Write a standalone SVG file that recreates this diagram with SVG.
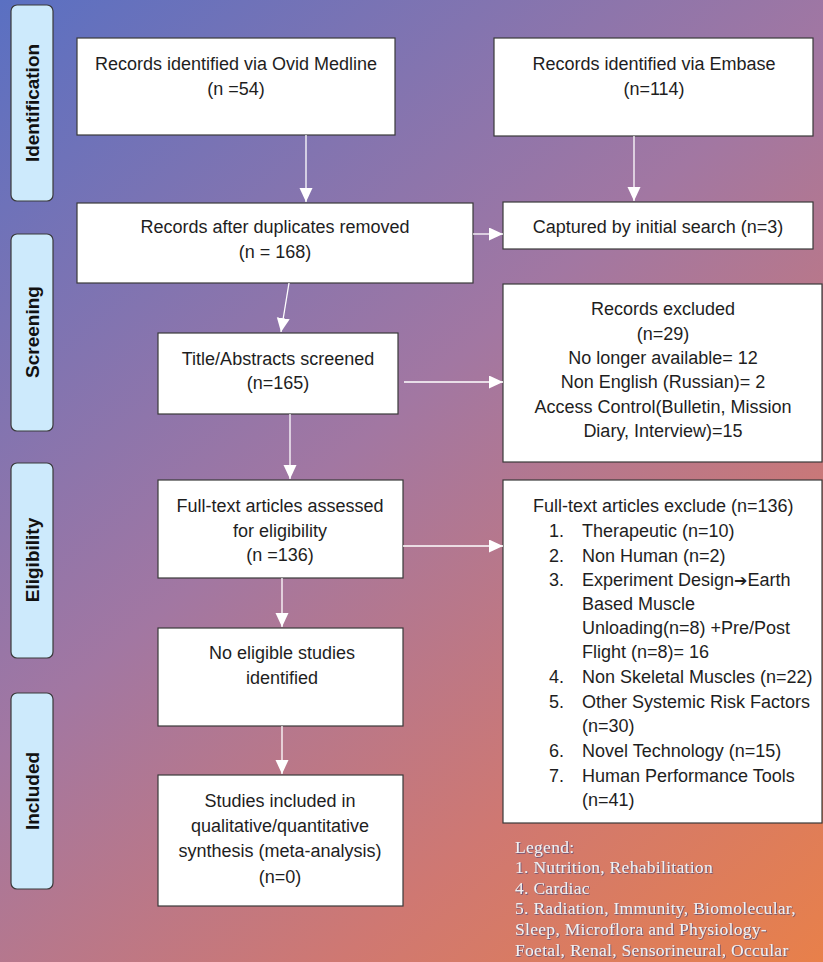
<svg xmlns="http://www.w3.org/2000/svg" width="823" height="962" viewBox="0 0 823 962">
<defs>
<linearGradient id="bg" gradientUnits="userSpaceOnUse" x1="0" y1="0" x2="823" y2="962">
<stop offset="0" stop-color="#5a70c2"/>
<stop offset="0.45" stop-color="#a277a2"/>
<stop offset="0.75" stop-color="#cf7872"/>
<stop offset="1" stop-color="#e8804a"/>
</linearGradient>
<marker id="ah" markerUnits="userSpaceOnUse" markerWidth="14" markerHeight="14" refX="14" refY="6.5" orient="auto">
<path d="M0,0 L14,6.5 L0,13 z" fill="#ffffff"/>
</marker>
<filter id="sh" x="-5%" y="-20%" width="110%" height="140%">
<feDropShadow dx="0.7" dy="0.7" stdDeviation="0.3" flood-color="#3b3f7a" flood-opacity="0.9"/>
</filter>
<style>
.box{fill:#ffffff;stroke:#3a3a3a;stroke-width:1.2}
.side{fill:#cdeafc;stroke:#3a3a3a;stroke-width:1.2}
.t{font-family:"Liberation Sans",Arial,sans-serif;font-size:18px;fill:#1e1e1e}
.c{text-anchor:middle}
.arr{font-family:"DejaVu Sans",sans-serif;font-size:16px}
.st{font-family:"Liberation Sans",Arial,sans-serif;font-size:19px;font-weight:bold;fill:#111111;text-anchor:middle}
.lg{font-family:"Liberation Serif","Times New Roman",serif;font-size:17.5px;letter-spacing:0.3px;fill:#f0f0f3}
.con{stroke:#ffffff;stroke-width:1.3;fill:none}
</style>
</defs>
<rect x="0" y="0" width="823" height="962" fill="url(#bg)"/>

<g id="side-identification">
<rect class="side" x="11" y="5" width="42" height="196" rx="6"/>
<text class="st" transform="translate(39,103) rotate(-90)">Identification</text>
</g>
<g id="side-screening">
<rect class="side" x="11" y="234" width="42" height="197" rx="6"/>
<text class="st" transform="translate(39,332) rotate(-90)">Screening</text>
</g>
<g id="side-eligibility">
<rect class="side" x="11" y="463" width="42" height="195" rx="6"/>
<text class="st" transform="translate(39,560) rotate(-90)">Eligibility</text>
</g>
<g id="side-included">
<rect class="side" x="11" y="693" width="42" height="196" rx="6"/>
<text class="st" transform="translate(39,791) rotate(-90)">Included</text>
</g>

<g id="ovid">
<rect class="box" x="77" y="38" width="318" height="97"/>
<text class="t c" x="236" y="70">Records identified via Ovid Medline</text>
<text class="t c" x="236" y="95">(n =54)</text>
</g>
<g id="embase">
<rect class="box" x="494" y="38" width="319" height="98"/>
<text class="t c" x="654" y="70">Records identified via Embase</text>
<text class="t c" x="654" y="95">(n=114)</text>
</g>
<g id="duplicates">
<rect class="box" x="77" y="203" width="396" height="80"/>
<text class="t c" x="275" y="233">Records after duplicates removed</text>
<text class="t c" x="275" y="258">(n = 168)</text>
</g>
<g id="captured">
<rect class="box" x="503" y="202" width="310" height="47"/>
<text class="t c" x="658" y="233">Captured by initial search (n=3)</text>
</g>
<g id="title-abstracts">
<rect class="box" x="158" y="333" width="240" height="81"/>
<text class="t c" x="278" y="365">Title/Abstracts screened</text>
<text class="t c" x="278" y="389">(n=165)</text>
</g>
<g id="records-excluded">
<rect class="box" x="503" y="284" width="319" height="178"/>
<text class="t c" x="663" y="315">Records excluded</text>
<text class="t c" x="663" y="340">(n=29)</text>
<text class="t c" x="663" y="364">No longer available= 12</text>
<text class="t c" x="663" y="388">Non English (Russian)= 2</text>
<text class="t c" x="663" y="413">Access Control(Bulletin, Mission</text>
<text class="t c" x="663" y="437">Diary, Interview)=15</text>
</g>
<g id="fulltext-assessed">
<rect class="box" x="158" y="480" width="245" height="98"/>
<text class="t c" x="280" y="512">Full-text articles assessed</text>
<text class="t c" x="280" y="537">for eligibility</text>
<text class="t c" x="280" y="561">(n =136)</text>
</g>
<g id="fulltext-excluded">
<rect class="box" x="503" y="480" width="319" height="343"/>
<text class="t" x="533" y="512">Full-text articles exclude (n=136)</text>
<text class="t" x="549" y="537">1.</text><text class="t" x="582" y="537">Therapeutic (n=10)</text>
<text class="t" x="549" y="562">2.</text><text class="t" x="582" y="562">Non Human (n=2)</text>
<text class="t" x="549" y="586">3.</text><text class="t" x="582" y="586">Experiment Design<tspan class="arr">➔</tspan>Earth</text>
<text class="t" x="582" y="610">Based Muscle</text>
<text class="t" x="582" y="634">Unloading(n=8) +Pre/Post</text>
<text class="t" x="582" y="658">Flight (n=8)= 16</text>
<text class="t" x="549" y="683">4.</text><text class="t" x="582" y="683">Non Skeletal Muscles (n=22)</text>
<text class="t" x="549" y="708">5.</text><text class="t" x="582" y="708">Other Systemic Risk Factors</text>
<text class="t" x="582" y="732">(n=30)</text>
<text class="t" x="549" y="757">6.</text><text class="t" x="582" y="757">Novel Technology (n=15)</text>
<text class="t" x="549" y="782">7.</text><text class="t" x="582" y="782">Human Performance Tools</text>
<text class="t" x="582" y="806">(n=41)</text>
</g>
<g id="no-eligible">
<rect class="box" x="158" y="628" width="245" height="98"/>
<text class="t c" x="282" y="659">No eligible studies</text>
<text class="t c" x="282" y="684">identified</text>
</g>
<g id="studies-included">
<rect class="box" x="158" y="775" width="245" height="131"/>
<text class="t c" x="280" y="807">Studies included in</text>
<text class="t c" x="280" y="832">qualitative/quantitative</text>
<text class="t c" x="280" y="857">synthesis (meta-analysis)</text>
<text class="t c" x="280" y="883">(n=0)</text>
</g>

<g id="legend" filter="url(#sh)">
<text class="lg" x="515" y="853">Legend:</text>
<text class="lg" x="515" y="873">1. Nutrition, Rehabilitation</text>
<text class="lg" x="515" y="894">4. Cardiac</text>
<text class="lg" x="515" y="914">5. Radiation, Immunity, Biomolecular,</text>
<text class="lg" x="515" y="935">Sleep, Microflora and Physiology-</text>
<text class="lg" x="515" y="956">Foetal, Renal, Sensorineural, Occular</text>
</g>

<g id="connectors">
<line class="con" x1="306" y1="135" x2="306" y2="202" marker-end="url(#ah)"/>
<line class="con" x1="634" y1="136" x2="634" y2="201" marker-end="url(#ah)"/>
<line class="con" x1="473" y1="234" x2="503" y2="234" marker-end="url(#ah)"/>
<line class="con" x1="289" y1="283" x2="281" y2="332" marker-end="url(#ah)"/>
<line class="con" x1="404" y1="382" x2="503" y2="382" marker-end="url(#ah)"/>
<line class="con" x1="290" y1="414" x2="290" y2="479" marker-end="url(#ah)"/>
<line class="con" x1="403" y1="546" x2="503" y2="546" marker-end="url(#ah)"/>
<line class="con" x1="282" y1="578" x2="282" y2="627" marker-end="url(#ah)"/>
<line class="con" x1="282" y1="726" x2="282" y2="774" marker-end="url(#ah)"/>
</g>
</svg>
